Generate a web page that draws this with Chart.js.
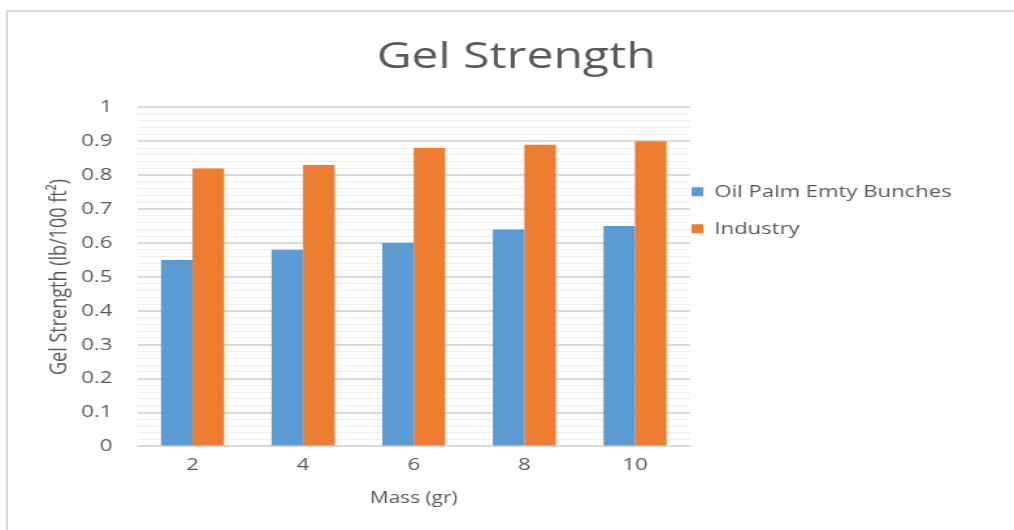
<!DOCTYPE html>
<html>
<head>
<meta charset="utf-8">
<script src="https://cdn.jsdelivr.net/npm/chart.js@4/dist/chart.umd.min.js"></script>
<style>
  html, body { margin: 0; padding: 0; background: #fff; overflow: hidden; }
  #frame {
    position: absolute; left: 6px; top: 10px; width: 1008px; height: 520px;
    border-left: 2px solid #d9d9d9; border-top: 2px solid #d9d9d9;
  }
  /* the original picture is stretched sideways, so draw narrow and stretch */
  #wrap {
    position: absolute; left: 0; top: 0; width: 780px; height: 530px;
    transform: scaleX(1.3); transform-origin: 0 0;
  }
</style>
</head>
<body>
<div id="frame"></div>
<div id="wrap"><canvas id="gelChart"></canvas></div>
<script>
// Data
const massLabels = ['2', '4', '6', '8', '10'];
const oilPalmValues = [0.55, 0.58, 0.60, 0.64, 0.65];
const industryValues = [0.82, 0.83, 0.88, 0.89, 0.90];

const textGray = '#595959';
const fontFamily = "'Open Sans', 'Liberation Sans', sans-serif";
const legendPad = 20;
const legendSpace = 220;

function isMajor(v) {
    return Math.abs(v * 10 - Math.round(v * 10)) < 1e-6;
}

// put the legend right against the plot area, like Excel does
const legendNudge = {
    id: 'legendNudge',
    beforeDraw(chart) {
        const lg = chart.legend;
        lg.left = chart.chartArea.right - legendPad + 1;
        lg.right = chart.width;
        lg.top = chart.chartArea.top;
        lg.bottom = chart.chartArea.bottom;
    }
};

const gelChart = new Chart(document.getElementById('gelChart').getContext('2d'), {
    type: 'bar',
    data: {
        labels: massLabels,
        datasets: [
            { label: 'Oil Palm Emty Bunches', data: oilPalmValues, backgroundColor: '#5b9bd5', barPercentage: 1, categoryPercentage: 0.57 },
            { label: 'Industry', data: industryValues, backgroundColor: '#ed7d31', barPercentage: 1, categoryPercentage: 0.57 }
        ]
    },
    options: {
        responsive: true,
        maintainAspectRatio: false,
        animation: false,
        layout: { padding: { top: 35, left: 43, right: 29, bottom: 22 } },
        plugins: {
            title: {
                display: true,
                text: 'Gel Strength',
                color: textGray,
                font: { family: fontFamily, size: 37, weight: 'normal' },
                padding: { top: 0, bottom: 28 }
            },
            legend: {
                position: 'chartArea',
                align: 'start',
                title: { display: true, text: ' ', padding: { top: 39, bottom: 0 }, font: { size: 14 } },
                labels: {
                    boxWidth: 9,
                    boxHeight: 9,
                    padding: legendPad,
                    color: textGray,
                    font: { family: fontFamily, size: 17 }
                }
            },
            tooltip: { enabled: false }
        },
        scales: {
            x: {
                grid: { display: false, drawTicks: false },
                border: { color: '#d9d9d9', width: 1 },
                ticks: { color: textGray, font: { family: fontFamily, size: 17 }, padding: 9 },
                title: {
                    display: true,
                    text: 'Mass (gr)',
                    color: textGray,
                    font: { family: fontFamily, size: 16 },
                    padding: { top: 4, bottom: 0 }
                }
            },
            y: {
                min: 0,
                max: 1,
                border: { display: false },
                ticks: {
                    stepSize: 0.02,
                    autoSkip: false,
                    color: textGray,
                    padding: 19,
                    font: { family: fontFamily, size: 17 },
                    callback: v => isMajor(v) ? String(Math.round(v * 10) / 10) : ''
                },
                grid: {
                    drawTicks: false,
                    color: ctx => isMajor(ctx.tick.value) ? '#d9d9d9' : '#efefef',
                    lineWidth: ctx => isMajor(ctx.tick.value) ? 2 : 1
                },
                title: {
                    display: true,
                    text: 'Gel Strength (lb/100 ft²)',
                    color: textGray,
                    font: { family: fontFamily, size: 18 },
                    padding: { top: -8, bottom: -13 }
                }
            },
            // empty axis that only keeps room on the right for the legend
            legendRoom: {
                position: 'right',
                grid: { display: false },
                border: { display: false },
                ticks: { display: false },
                afterFit: scale => { scale.width = legendSpace; }
            }
        }
    },
    plugins: [legendNudge]
});
</script>
</body>
</html>
